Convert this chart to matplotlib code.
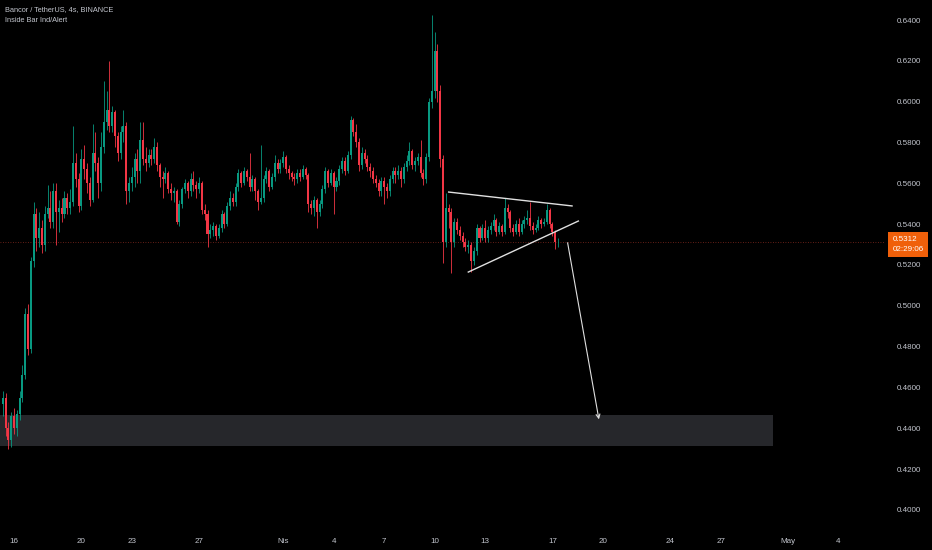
import matplotlib
matplotlib.use('Agg')
import matplotlib.pyplot as plt
import matplotlib.dates as mdates
import matplotlib.transforms as mtransforms
from matplotlib.patches import Rectangle
from datetime import datetime, timedelta

# 4h candles, first one at 2023-03-15 08:00
start = datetime(2023, 3, 15, 8)
first_open = 0.452
closes = [
    0.455, 0.440, 0.434, 0.446, 0.440, 0.447, 0.455, 0.466, 0.496, 0.479,
    0.522, 0.545, 0.533, 0.538, 0.530, 0.545, 0.548, 0.541, 0.556, 0.546,
    0.548, 0.545, 0.553, 0.548, 0.551, 0.570, 0.562, 0.549, 0.572, 0.567,
    0.560, 0.552, 0.575, 0.570, 0.560, 0.578, 0.590, 0.596, 0.588, 0.595,
    0.583, 0.575, 0.585, 0.588, 0.556, 0.560, 0.563, 0.572, 0.566, 0.581,
    0.572, 0.570, 0.574, 0.572, 0.578, 0.569, 0.563, 0.562, 0.565, 0.557,
    0.555, 0.556, 0.541, 0.550, 0.557, 0.560, 0.556, 0.562, 0.559, 0.557,
    0.560, 0.547, 0.545, 0.535, 0.537, 0.539, 0.534, 0.538, 0.545, 0.540,
    0.549, 0.553, 0.551, 0.558, 0.565, 0.560, 0.566, 0.563, 0.558, 0.562,
    0.556, 0.551, 0.553, 0.562, 0.566, 0.558, 0.563, 0.570, 0.567, 0.570,
    0.573, 0.567, 0.565, 0.563, 0.562, 0.565, 0.563, 0.567, 0.564, 0.550,
    0.548, 0.552, 0.546, 0.550, 0.557, 0.566, 0.560, 0.565, 0.558, 0.561,
    0.567, 0.571, 0.566, 0.574, 0.591, 0.585, 0.580, 0.569, 0.575, 0.572,
    0.568, 0.566, 0.562, 0.560, 0.556, 0.561, 0.558, 0.556, 0.562, 0.566,
    0.564, 0.566, 0.562, 0.568, 0.571, 0.576, 0.569, 0.571, 0.573, 0.565,
    0.562, 0.573, 0.600, 0.605, 0.625, 0.605, 0.572, 0.531, 0.548, 0.546,
    0.531, 0.541, 0.537, 0.534, 0.531, 0.529, 0.530, 0.522, 0.527, 0.538,
    0.533, 0.538, 0.533, 0.537, 0.539, 0.542, 0.536, 0.539, 0.536, 0.548,
    0.546, 0.538, 0.536, 0.540, 0.536, 0.540, 0.542, 0.543, 0.539, 0.537,
    0.538, 0.542, 0.540, 0.541, 0.547, 0.540, 0.536, 0.531, 0.5312,
]
highs = [
    0.458, 0.457, 0.443, 0.448, 0.450, 0.449, 0.458, 0.471, 0.499, 0.501,
    0.524, 0.551, 0.548, 0.546, 0.542, 0.549, 0.559, 0.556, 0.560, 0.560,
    0.552, 0.553, 0.556, 0.555, 0.557, 0.588, 0.575, 0.565, 0.577, 0.579,
    0.570, 0.563, 0.589, 0.585, 0.573, 0.585, 0.610, 0.605, 0.620, 0.598,
    0.596, 0.585, 0.588, 0.596, 0.590, 0.563, 0.568, 0.575, 0.577, 0.590,
    0.590, 0.578, 0.577, 0.577, 0.582, 0.580, 0.570, 0.566, 0.568, 0.566,
    0.560, 0.558, 0.557, 0.552, 0.558, 0.562, 0.561, 0.565, 0.566, 0.561,
    0.563, 0.561, 0.550, 0.547, 0.540, 0.541, 0.540, 0.540, 0.547, 0.546,
    0.551, 0.556, 0.555, 0.560, 0.567, 0.566, 0.568, 0.567, 0.575, 0.564,
    0.563, 0.557, 0.579, 0.564, 0.568, 0.567, 0.565, 0.574, 0.572, 0.572,
    0.576, 0.574, 0.569, 0.566, 0.565, 0.567, 0.567, 0.569, 0.568, 0.565,
    0.552, 0.554, 0.553, 0.552, 0.559, 0.568, 0.567, 0.567, 0.566, 0.563,
    0.569, 0.573, 0.573, 0.576, 0.593, 0.592, 0.589, 0.582, 0.578, 0.577,
    0.574, 0.570, 0.568, 0.564, 0.562, 0.563, 0.563, 0.560, 0.564, 0.568,
    0.568, 0.569, 0.568, 0.570, 0.574, 0.580, 0.577, 0.573, 0.575, 0.581,
    0.567, 0.575, 0.602, 0.6425, 0.634, 0.628, 0.608, 0.574, 0.555, 0.550,
    0.548, 0.543, 0.543, 0.539, 0.536, 0.533, 0.532, 0.531, 0.529, 0.540,
    0.539, 0.540, 0.542, 0.539, 0.541, 0.545, 0.543, 0.541, 0.540, 0.553,
    0.550, 0.547, 0.540, 0.542, 0.543, 0.542, 0.544, 0.547, 0.5507, 0.541,
    0.540, 0.544, 0.543, 0.543, 0.5497, 0.548, 0.541, 0.537, 0.533,
]
lows = [
    0.446, 0.436, 0.430, 0.431, 0.437, 0.436, 0.444, 0.453, 0.464, 0.476,
    0.477, 0.519, 0.527, 0.529, 0.526, 0.527, 0.543, 0.538, 0.538, 0.530,
    0.536, 0.541, 0.543, 0.545, 0.545, 0.549, 0.558, 0.546, 0.547, 0.562,
    0.555, 0.549, 0.551, 0.566, 0.553, 0.556, 0.575, 0.586, 0.585, 0.585,
    0.578, 0.571, 0.572, 0.580, 0.550, 0.551, 0.556, 0.558, 0.560, 0.560,
    0.569, 0.566, 0.568, 0.569, 0.570, 0.566, 0.558, 0.553, 0.560, 0.555,
    0.552, 0.551, 0.540, 0.539, 0.548, 0.555, 0.553, 0.554, 0.556, 0.553,
    0.555, 0.545, 0.542, 0.529, 0.533, 0.534, 0.532, 0.533, 0.536, 0.538,
    0.539, 0.547, 0.549, 0.549, 0.556, 0.558, 0.559, 0.561, 0.556, 0.556,
    0.552, 0.547, 0.550, 0.551, 0.560, 0.556, 0.557, 0.561, 0.565, 0.565,
    0.568, 0.565, 0.562, 0.561, 0.559, 0.560, 0.561, 0.562, 0.562, 0.546,
    0.545, 0.544, 0.538, 0.544, 0.548, 0.555, 0.558, 0.559, 0.545, 0.556,
    0.559, 0.565, 0.564, 0.565, 0.572, 0.583, 0.578, 0.566, 0.567, 0.570,
    0.566, 0.563, 0.560, 0.558, 0.554, 0.554, 0.550, 0.553, 0.554, 0.560,
    0.560, 0.562, 0.558, 0.560, 0.566, 0.569, 0.567, 0.566, 0.569, 0.563,
    0.559, 0.560, 0.571, 0.597, 0.602, 0.600, 0.568, 0.521, 0.529, 0.538,
    0.516, 0.529, 0.535, 0.532, 0.529, 0.527, 0.526, 0.5165, 0.520, 0.525,
    0.531, 0.532, 0.531, 0.531, 0.535, 0.537, 0.534, 0.535, 0.534, 0.535,
    0.543, 0.536, 0.534, 0.535, 0.534, 0.535, 0.538, 0.540, 0.537, 0.535,
    0.536, 0.537, 0.538, 0.539, 0.540, 0.538, 0.534, 0.528, 0.529,
]

last_price = 0.5312
countdown = '02:29:06'

# drawings on the chart
upper_line = [(datetime(2023, 4, 10, 20), 0.5557), (datetime(2023, 4, 18, 4), 0.5489)]
lower_line = [(datetime(2023, 4, 12, 0), 0.5165), (datetime(2023, 4, 18, 13), 0.5415)]
arrow_from = (datetime(2023, 4, 17, 21), 0.5322)
arrow_to = (datetime(2023, 4, 19, 19), 0.4430)
zone_end = datetime(2023, 4, 30, 3)
zone_low, zone_high = 0.4313, 0.4465

yticks = [0.40, 0.42, 0.44, 0.46, 0.48, 0.50, 0.52, 0.54, 0.56, 0.58, 0.60, 0.62, 0.64]
xtick_dates = [datetime(2023, 3, 16), datetime(2023, 3, 20), datetime(2023, 3, 23),
               datetime(2023, 3, 27), datetime(2023, 4, 1), datetime(2023, 4, 4),
               datetime(2023, 4, 7), datetime(2023, 4, 10), datetime(2023, 4, 13),
               datetime(2023, 4, 17), datetime(2023, 4, 20), datetime(2023, 4, 24),
               datetime(2023, 4, 27), datetime(2023, 5, 1), datetime(2023, 5, 4)]
xtick_labels = ['16', '20', '23', '27', 'Nis', '4', '7', '10', '13', '17', '20',
                '24', '27', 'May', '4']

UP = '#089981'
DOWN = '#f23645'
TXT = '#c3c6ce'
plt.rcParams['font.family'] = ['Liberation Sans', 'DejaVu Sans']

fig = plt.figure(figsize=(9.32, 5.5), dpi=100, facecolor='black')
ax = fig.add_axes([0.0, 0.04, 0.95, 0.96])
ax.set_facecolor('black')

times = [start + timedelta(hours=4 * i) for i in range(len(closes))]
opens = [first_open] + closes[:-1]
xs = mdates.date2num(times)

colors = [UP if c >= o else DOWN for o, c in zip(opens, closes)]
ax.vlines(xs, lows, highs, colors=colors, linewidth=0.6, zorder=3)
bottoms = [min(o, c) for o, c in zip(opens, closes)]
heights = [max(abs(c - o), 0.0004) for o, c in zip(opens, closes)]
ax.bar(xs, heights, bottom=bottoms, width=0.12, color=colors, linewidth=0, zorder=4)

ax.set_xlim(mdates.date2num(datetime(2023, 3, 15, 4)), mdates.date2num(datetime(2023, 5, 6, 19)))
ax.set_ylim(0.3911, 0.6498)

# support zone
xl = ax.get_xlim()
ax.add_patch(Rectangle((xl[0], zone_low), mdates.date2num(zone_end) - xl[0],
                       zone_high - zone_low, facecolor='#26272b', edgecolor='none', zorder=1))

# current price line
ax.axhline(last_price, color='#c0392b', linewidth=0.6, linestyle=(0, (1, 2)), alpha=0.7, zorder=2)

# triangle + arrow
for line in (upper_line, lower_line):
    ax.plot([line[0][0], line[1][0]], [line[0][1], line[1][1]], color='#e0e0e0', linewidth=1.0, zorder=5)
ax.annotate('', xy=arrow_to, xytext=arrow_from,
            arrowprops=dict(arrowstyle='->', color='#e0e0e0', lw=0.8, mutation_scale=7), zorder=5)

# axes styling
for s in ax.spines.values():
    s.set_visible(False)
ax.yaxis.tick_right()
ax.set_yticks(yticks)
ax.set_yticklabels(['%.4f' % v for v in yticks])
ax.set_xticks(mdates.date2num(xtick_dates))
ax.set_xticklabels(xtick_labels)
ax.tick_params(axis='both', length=0, colors=TXT, labelsize=5.8)
ax.tick_params(axis='y', pad=8)
ax.tick_params(axis='x', pad=7)

# last price label
trans = mtransforms.blended_transform_factory(ax.transAxes, ax.transData)
ax.text(1.008, last_price - 0.0012, '%.4f\n%s' % (last_price, countdown), transform=trans,
        ha='left', va='center', fontsize=5.8, color='white', linespacing=1.5,
        bbox=dict(boxstyle='square,pad=0.55', facecolor='#f0600a', edgecolor='none'),
        clip_on=False, zorder=10)

fig.text(0.005, 0.982, 'Bancor / TetherUS, 4s, BINANCE', color=TXT, fontsize=5.3, va='center')
fig.text(0.005, 0.962, 'Inside Bar Ind/Alert', color=TXT, fontsize=5.3, va='center')

fig.savefig('out.png', dpi=100, facecolor='black')
